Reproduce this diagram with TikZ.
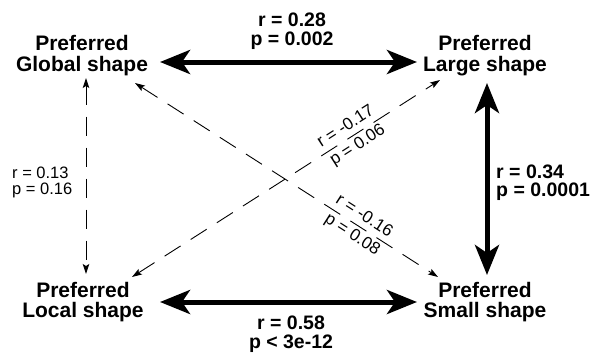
\documentclass[tikz,border=0pt]{standalone}
\usepackage{fontspec}
\setmainfont{Liberation Sans}
\usetikzlibrary{arrows.meta,calc}
\begin{document}
\begin{tikzpicture}[x=1pt,y=-1pt,
  box/.style={align=center,inner sep=0pt,outer sep=0pt,font=\fontsize{21}{20.5}\selectfont\bfseries},
  blab/.style={inner sep=0pt,font=\fontsize{19.5}{18.5}\selectfont\bfseries},
  tlab/.style={inner sep=0pt,font=\fontsize{16.5}{16}\selectfont},
  dlab/.style={inner sep=0pt,align=center,font=\fontsize{17}{22}\selectfont},
  bigtip/.tip={Stealth[length=30pt,width=24pt,inset=8pt]},
  smalltip/.tip={Stealth[length=10pt,width=6.5pt,inset=2pt]},
  big/.style={line width=5pt,bigtip-bigtip},
  weak/.style={line width=0.9pt,dash pattern=on 19pt off 12pt,smalltip-smalltip}]
\useasboundingbox (0,0) rectangle (591,354);
\node[box] (global) at (82,55.5) {Preferred\\Global shape};
\node[box] (large) at (485,55.5) {Preferred\\Large shape};
\node[box] (local) at (83,302) {Preferred\\Local shape};
\node[box] (small) at (485,302) {Preferred\\Small shape};
\draw[big] ([shift={(78,6.5)}]global.center) -- ([shift={(-68,6.5)}]large.center);
\draw[big] ([shift={(77,0)}]local.center) -- ([shift={(-68,0)}]small.center);
\draw[big] ([shift={(2,27.5)}]large.center) -- ([shift={(2,-27)}]small.center);
\draw[weak] ([shift={(4,22.5)}]global.center) -- ([shift={(3,-28)}]local.center);
\draw[weak] ([shift={(53,27.5)}]global.center) -- node[dlab,sloped,pos=0.736] (d2) {r = -0.16\\p = 0.08} ([shift={(-47,-25)}]small.center);
\draw[weak] ([shift={(49,-25)}]local.center) -- node[dlab,sloped,pos=0.714] (d1) {r = -0.17\\p = 0.06} ([shift={(-45,24.5)}]large.center);
\node[blab,align=center] (l1) at (292,31) {r = 0.28\\p = 0.002};
\node[blab,align=left,anchor=west] (l2) at (496,182.5) {r = 0.34\\p = 0.0001};
\node[blab,align=center] (l3) at (291,334) {r = 0.58\\p < 3e-12};
\node[tlab,align=left,anchor=west] (l4) at (12,182) {r = 0.13\\p = 0.16};
\end{tikzpicture}
\end{document}
